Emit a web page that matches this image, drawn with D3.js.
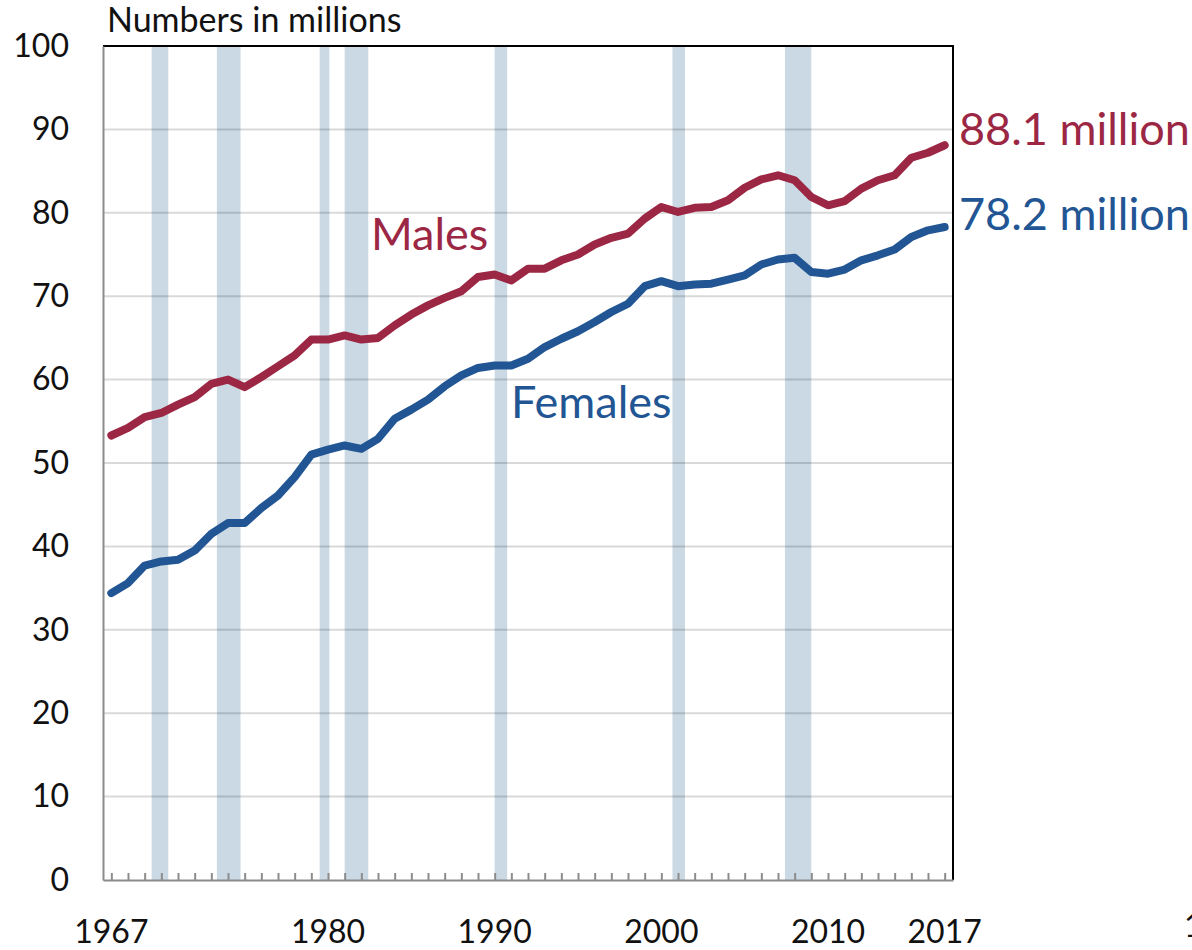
<!DOCTYPE html>
<html>
<head>
<meta charset="utf-8">
<script src="https://cdn.jsdelivr.net/npm/d3@7"></script>
<style>
    body { margin: 0; background: #fff; }
    text { font-family: Lato, "Open Sans", sans-serif; }
</style>
</head>
<body>
<div id="chart"></div>
<script>
// years on the x axis
var years = d3.range(1967, 2018);

// number of people, in millions
var males = [53.3, 54.2, 55.5, 56.0, 57.0, 57.9, 59.5, 60.0, 59.1, 60.3,
    61.6, 62.9, 64.8, 64.8, 65.3, 64.8, 65.0, 66.5, 67.8, 68.9,
    69.8, 70.6, 72.3, 72.6, 71.9, 73.3, 73.3, 74.3, 75.0, 76.2,
    77.0, 77.5, 79.3, 80.7, 80.1, 80.6, 80.7, 81.5, 83.0, 84.0,
    84.5, 83.9, 81.9, 80.9, 81.4, 82.9, 83.9, 84.5, 86.6, 87.2,
    88.1];
var females = [34.4, 35.6, 37.7, 38.2, 38.4, 39.5, 41.5, 42.8, 42.8, 44.6,
    46.1, 48.3, 51.0, 51.6, 52.1, 51.7, 52.9, 55.3, 56.4, 57.6,
    59.2, 60.5, 61.4, 61.7, 61.7, 62.5, 63.9, 64.9, 65.8, 66.9,
    68.1, 69.1, 71.2, 71.8, 71.2, 71.4, 71.5, 72.0, 72.5, 73.8,
    74.4, 74.6, 72.9, 72.7, 73.2, 74.3, 74.9, 75.6, 77.1, 77.9,
    78.3];

// recessions, as fractional years (peak month to end of trough month)
var recessionStart = [1969.917, 1973.833, 1980.0, 1981.5, 1990.5, 2001.167, 2007.917];
var recessionEnd = [1970.917, 1975.25, 1980.583, 1982.917, 1991.25, 2001.917, 2009.5];

// tick labels
var yTicks = [0, 10, 20, 30, 40, 50, 60, 70, 80, 90, 100];
var yearLabels = [1967, 1980, 1990, 2000, 2010, 2017];

var width = 1192,
    height = 950;
var plotLeft = 103,
    plotRight = 953,
    plotTop = 46,
    plotBottom = 880;

var redColor = "#9c2744",
    blueColor = "#225593";

var svg = d3
    .select("#chart")
    .append("svg")
    .attr("width", width)
    .attr("height", height);

// each year owns one slot, points sit in the middle of the slot
var x = d3.scaleLinear().domain([1967, 2018]).range([plotLeft, plotRight]);
var y = d3.scaleLinear().domain([0, 100]).range([plotBottom, plotTop]);

// recession bands
svg.append("g")
    .selectAll("rect")
    .data(recessionStart)
    .enter()
    .append("rect")
    .attr("x", function (d) {
        return x(d);
    })
    .attr("y", plotTop)
    .attr("width", function (d, i) {
        return x(recessionEnd[i]) - x(d);
    })
    .attr("height", plotBottom - plotTop)
    .style("fill", "#cad9e3");

// gridlines
svg.append("g")
    .selectAll("line")
    .data(yTicks.slice(1, -1))
    .enter()
    .append("line")
    .attr("x1", plotLeft)
    .attr("x2", plotRight)
    .attr("y1", function (d) {
        return y(d);
    })
    .attr("y2", function (d) {
        return y(d);
    })
    .style("stroke", "rgba(0,0,0,0.15)")
    .style("stroke-width", 2);

// plot frame (top and right are black)
svg.append("path")
    .attr("d", "M" + plotLeft + "," + plotTop + "H" + plotRight + "V" + plotBottom)
    .style("fill", "none")
    .style("stroke", "#000")
    .style("stroke-width", 2);

// y axis
var yAxis = svg
    .append("g")
    .attr("transform", "translate(" + plotLeft + ",0)")
    .call(d3.axisLeft(y).tickValues(yTicks).tickSize(0).tickPadding(34));
yAxis.select(".domain").style("stroke", "#8c8c8c").style("stroke-width", 2);
yAxis
    .selectAll("text")
    .style("font-family", "Lato, sans-serif")
    .style("font-size", "32px")
    .style("fill", "#111");

// x axis: small ticks pointing up at every year
var xAxis = svg
    .append("g")
    .attr("transform", "translate(0," + plotBottom + ")")
    .call(
        d3
            .axisBottom(x)
            .tickValues(
                years.map(function (d) {
                    return d + 0.5;
                })
            )
            .tickSize(-7)
            .tickSizeOuter(0)
            .tickFormat("")
    );
xAxis.select(".domain").style("stroke", "#8c8c8c").style("stroke-width", 2);
xAxis.selectAll(".tick line").style("stroke", "#8c8c8c").style("stroke-width", 2);

// year labels
svg.append("g")
    .selectAll("text")
    .data(yearLabels)
    .enter()
    .append("text")
    .attr("x", function (d) {
        return x(d + 0.5);
    })
    .attr("y", 943)
    .attr("text-anchor", "middle")
    .style("font-size", "32px")
    .style("fill", "#111")
    .text(function (d) {
        return d;
    });

// clipped label at the right edge
svg.append("text")
    .attr("x", 1184)
    .attr("y", 937)
    .style("font-size", "32px")
    .style("fill", "#111")
    .text("1");

// title
svg.append("text")
    .attr("x", 107)
    .attr("y", 32)
    .style("font-size", "34px")
    .style("fill", "#111")
    .text("Numbers in millions");

// lines
var line = d3
    .line()
    .x(function (d, i) {
        return x(years[i] + 0.5);
    })
    .y(function (d) {
        return y(d);
    });

svg.append("path")
    .datum(females)
    .attr("d", line)
    .style("fill", "none")
    .style("stroke", blueColor)
    .style("stroke-width", 8)
    .style("stroke-linejoin", "round")
    .style("stroke-linecap", "round");

svg.append("path")
    .datum(males)
    .attr("d", line)
    .style("fill", "none")
    .style("stroke", redColor)
    .style("stroke-width", 8)
    .style("stroke-linejoin", "round")
    .style("stroke-linecap", "round");

// series labels
svg.append("text")
    .attr("x", 371)
    .attr("y", 250)
    .style("font-size", "45px")
    .style("fill", redColor)
    .text("Males");

svg.append("text")
    .attr("x", 511)
    .attr("y", 418)
    .style("font-size", "45px")
    .style("fill", blueColor)
    .text("Females");

svg.append("text")
    .attr("x", 959)
    .attr("y", 145)
    .style("font-size", "45px")
    .style("fill", redColor)
    .text("88.1 million");

svg.append("text")
    .attr("x", 959)
    .attr("y", 230)
    .style("font-size", "45px")
    .style("fill", blueColor)
    .text("78.2 million");
</script>
</body>
</html>
